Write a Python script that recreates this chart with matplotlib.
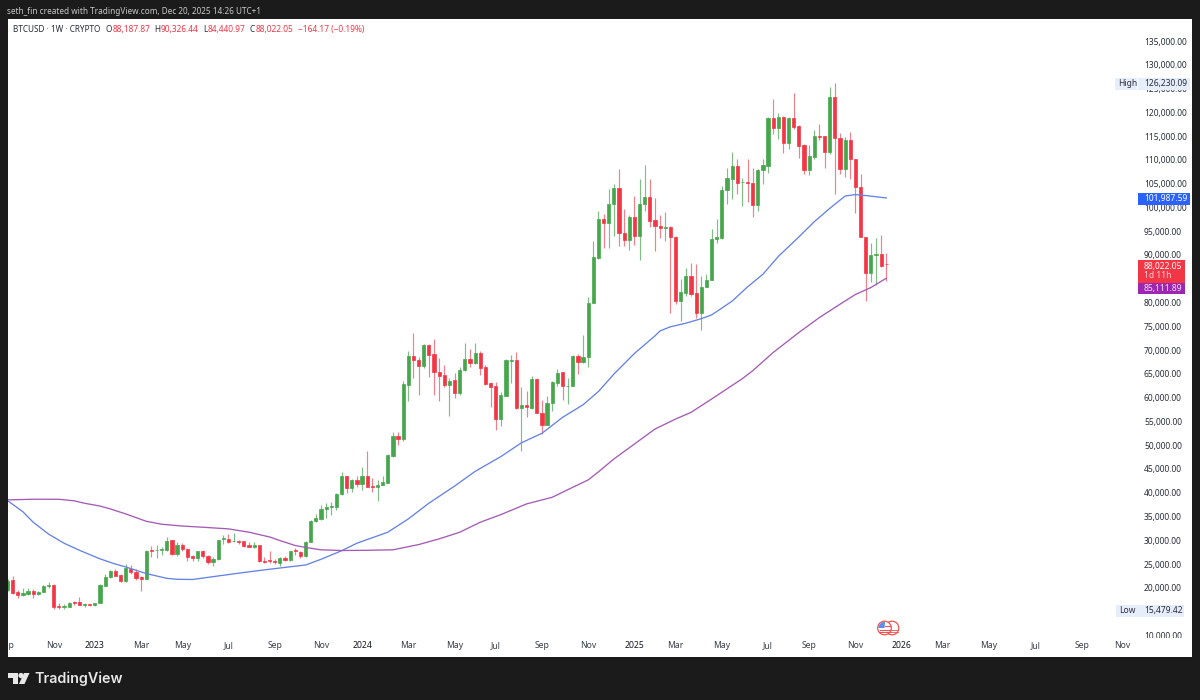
import numpy as np
import matplotlib
matplotlib.use("Agg")
import matplotlib.pyplot as plt
from matplotlib.collections import LineCollection
from matplotlib.patches import Rectangle, Circle, Polygon, Wedge

# Weekly candles: first bar is week -17 relative to the first week of 2023
first_week = -17
opens = [
 19600,21550,19170,18400,18680,19310,18680,19170,20290,20570,
 16160,15950,15950,16930,16930,16370,16510,
 16370,16790,20430,22320,23440,22670,21340,24000,23230,22180,
 21830,28000,27900,28060,28000,30090,27150,28970,28200,26660,
 26310,27710,26800,25540,26030,30300,30230,29810,29950,29810,
 29110,28690,28970,25750,25890,25750,25330,26310,25890,27990,
 27500,26730,29670,
 34080,34430,36670,37090,37090,39680,43460,40940,42760,41850,
 43600,41360,41150,41570,42130,47800,51860,51230,62710,68730,
 67960,66700,70970,69080,65440,64670,62710,63620,61030,65790,
 68170,67330,69360,66350,62990,62360,55430,60400,67610,67820,
 57740,58370,57810,63970,56830,54310,58790,63060,65300,62360,
 62360,68800,67400,68450,80000,89450,97500,96800,100650,104010,
 94700,93090,98000,94070,100650,102200,97290,96030,95600,95800,
 93860,80350,82030,85530,81960,77830,83290,84690,93370,93650,
 103730,106040,108700,105300,105340,105200,100510,107860,108770,118710,
 116750,118990,113600,118850,117100,113040,107790,110590,115000,114930,
 111640,123190,114580,108140,114160,110100,104290,93790,86300,89940,
 90150,88187.87]
highs = [
 21900,22460,19590,20000,19870,19800,19310,20570,21130,20710,
 16790,16510,16930,17210,18050,16790,16650,
 16860,20710,23000,23650,24000,22810,25000,24840,24000,22390,
 28000,28760,29000,28550,30650,30160,29740,29530,28410,27010,
 26520,27990,27010,26450,26520,31140,31280,31490,30090,29950,
 29740,29670,29100,26520,27850,26100,26520,26800,27850,28410,
 27710,29810,34290,
 35550,37510,37790,38000,39890,44300,43600,42970,43530,45490,
 48710,43110,42690,43600,48150,52700,52700,63550,69710,73490,
 68590,71250,71250,72370,68310,66910,64110,65160,66350,71530,
 70270,71530,69710,66770,63200,63200,61100,68100,69010,69570,
 62290,61450,64600,64110,59490,60400,63550,66000,65300,64110,
 68940,69150,73210,81190,92950,99250,98550,103800,104850,108000,
 99600,98400,102400,105900,108900,105900,102050,98400,99100,96100,
 94000,84900,87210,88330,88050,85600,86090,95400,97500,104500,
 108350,111640,110240,106250,110100,108350,108000,110100,119060,122700,
 119760,119200,119060,124100,117240,113250,113040,116190,117450,115000,
 125290,126230.09,115560,114790,115910,110240,106950,93860,92600,93650,
 94140,90326.44]
lows = [
 19300,18750,17910,18260,18470,17910,18400,19100,19870,15460,
 15530,15479.42,15880,16370,16300,16020,16160,
 16230,16720,20290,22110,22390,21270,21270,22950,21690,19310,
 21830,26450,26380,27000,27850,27010,26660,27850,25610,25750,
 25750,26310,25050,24490,25890,29250,29530,29600,29250,28690,
 28550,28410,25540,25190,25190,25050,24630,25750,25750,27000,
 26310,26590,29600,
 33940,34290,34710,35410,36460,39610,39890,40240,41150,40660,
 41150,40100,38280,41570,42130,47590,50110,50810,59210,64110,
 60470,66210,64390,60610,59350,62150,56200,59910,60540,65650,
 66350,67050,64740,62640,58090,53190,53960,60400,63130,57600,
 48850,55850,57600,56760,52350,54310,57250,62500,59490,58650,
 62360,64950,67260,66500,79900,89100,91550,91550,94000,91900,
 91900,91050,92050,89000,99250,95890,90850,93650,92950,77900,
 79790,76150,81330,81330,76850,74190,83290,84690,92600,93300,
 100650,101840,102750,100300,101140,98060,99250,104850,107160,115350,
 114440,111500,112340,116540,110380,106950,106880,110240,114090,108280,
 111150,102750,107000,106390,106040,98760,93720,80350,84340,83640,
 87560,84440.97]
closes = [
 21500,18960,18400,18890,19310,18750,19170,20430,20500,15950,
 15950,16160,16790,16720,16440,16510,16370,
 16790,20570,22320,23440,22530,21340,24140,23230,22040,21830,
 27780,27850,28000,28200,29950,27220,28970,28130,26590,26310,
 27780,26800,25540,26100,30090,30440,29670,29950,29740,28830,
 28620,28970,25750,25540,25680,25540,26310,25890,27710,27710,
 26730,29670,34150,
 34780,36670,37090,37230,39750,43460,40940,42760,41850,43600,
 41290,41150,41710,42270,47940,51860,51230,62780,68730,67890,
 66700,71040,68940,65300,64600,62710,63550,61030,65790,68100,
 67260,69360,66280,62780,62150,55430,60610,67820,67890,57740,
 58370,57950,63970,56760,54310,58860,63270,65230,62360,62500,
 68800,67470,68450,80000,89590,97500,96800,100650,104010,94700,
 93090,98000,94000,100650,102200,97150,96030,95610,95800,93790,
 80350,82170,85530,81890,77830,83360,84690,93370,93790,103660,
 106180,108700,105200,105400,105130,100440,107860,108840,118710,116750,
 118990,113600,118850,116890,112900,107790,110800,114930,114790,111710,
 123190,114580,108140,114160,110100,104290,93790,86300,89940,90150,
 87700,88022.05]

# Moving averages, read at selected weeks
blue_weeks = [-17,-14,-12,-9,-6,-3,-1,1,4,6,10,14,16,19,24,28,32,37,41,44,48,51,57,61,65,70,74,79,83,87,91,95,98,
              101,105,109,110,112,115,118,120,121,124,127,130,133,137,140,143,146,148,150,152,154]
blue_vals = [38350,36000,33800,31300,29390,27900,27000,26100,25000,24400,23000,22000,21800,21760,22500,23090,23650,24300,24800,26000,27800,29390,
             31700,34500,37800,41400,44500,47600,50500,52500,55850,58500,61300,
             64950,69300,73000,74050,74900,75660,76600,77400,78100,80300,83290,85950,89700,93800,97000,99800,102400,102700,102500,102250,101987.59]
purple_weeks = [-17,-12,-7,-4,-2,1,3,6,10,13,17,21,26,30,34,36,39,41,44,48,53,58,63,67,71,75,79,84,89,93,96,98,
                101,105,109,113,116,120,126,128,132,137,141,145,148,151,154]
purple_vals = [38500,38630,38630,38300,37790,37200,36600,35550,34000,33380,33000,32750,32400,31700,30700,29950,28900,28500,28000,27850,27900,28000,29100,
               30300,31700,33800,35400,37650,39050,41150,42700,44400,
               47100,50250,53400,55500,56900,59700,64000,65650,69500,73700,76850,79650,81700,83150,85111.89]

# Axis labels
x_tick_weeks = [-17,-8,0,9,17,26,35,44,52,61,70,78,87,96,105,113,122,131,139,148,157,165,174,183,192,200]
x_tick_text = ["Sep","Nov","2023","Mar","May","Jul","Sep","Nov","2024","Mar","May","Jul","Sep","Nov",
               "2025","Mar","May","Jul","Sep","Nov","2026","Mar","May","Jul","Sep","Nov"]
y_tick_vals = [10000,15000,20000,25000,30000,35000,40000,45000,50000,55000,60000,65000,70000,75000,80000,
               90000,95000,100000,105000,110000,115000,120000,125000,130000,135000]

FONT = "Noto Sans"
DARK = "#1b1b1b"
GREEN = "#46A64C"
RED = "#F23645"
INK = "#2a2e39"
W, H = 1200, 700

fig = plt.figure(figsize=(12, 7), dpi=100, facecolor=DARK)
L, R, T, B = 7.5, 1192, 19, 657
ax = fig.add_axes([L/W, 1-B/H, (R-L)/W, (B-T)/H], facecolor="white")

weeks = np.arange(first_week, first_week + len(opens))
o, h, l, c = map(np.array, (opens, highs, lows, closes))
up = c >= o
colors = np.where(up, GREEN, RED)
wick_colors = np.where(up, "#7fbf86", "#f2808a")
ax.add_collection(LineCollection([[(x, a), (x, b)] for x, a, b in zip(weeks, l, h)],
                                 colors=list(wick_colors), linewidths=0.85, zorder=2))
ax.bar(weeks, np.abs(c-o), bottom=np.minimum(o, c), width=0.62, color=list(colors),
       edgecolor=list(colors), linewidth=0.5, zorder=3)
ax.plot(blue_weeks, blue_vals, color="#6583E2", lw=0.95, zorder=4, solid_joinstyle="round")
ax.plot(purple_weeks, purple_vals, color="#A45BB5", lw=0.95, zorder=4, solid_joinstyle="round")

# pixel calibration: week 0 at x=94, 5.143 px per week; 10,000 at y=635.4, 210.3 per px
ax.set_xlim((L-94)/5.143, (R-94)/5.143)
ax.set_ylim(10000-(B-635.4)*210.3, 10000+(635.4-T)*210.3)

for s in ax.spines.values():
    s.set_visible(False)
ax.yaxis.tick_right()
ax.set_yticks(y_tick_vals)
ax.set_yticklabels([f"{v:,.2f}" for v in y_tick_vals], fontfamily=FONT, fontsize=6.1, color=INK)
ax.tick_params(axis="y", length=0, pad=-(R-1144)*0.72)
ax.set_xticks(x_tick_weeks)
ax.set_xticklabels(x_tick_text, fontfamily=FONT, fontsize=6.2, color="#3a3e49")
ax.tick_params(axis="x", length=0, pad=-11.5)
for lab, txt in zip(ax.get_xticklabels(), x_tick_text):
    if txt.isdigit():
        lab.set_fontweight("bold")
        lab.set_color("#131722")

# overlay in pixel coordinates for the TradingView chrome
ov = fig.add_axes([0, 0, 1, 1], facecolor="none")
ov.set_xlim(0, W)
ov.set_ylim(H, 0)
ov.axis("off")
ov.add_patch(Rectangle((0, 0), L, H, color=DARK, lw=0))
ov.add_patch(Rectangle((1134, 637.5), R-1134, B-637.5, color="white", lw=0))

def t(x, y, s, color=INK, size=6.1, ha="left", **kw):
    ov.text(x, y, s, color=color, fontsize=size, ha=ha, va="center", fontfamily=FONT, **kw)

t(7, 11, "seth_fin created with TradingView.com, Dec 20, 2025 14:26 UTC+1", color="#c8c8c8", size=5.9)
t(13, 29.5, "BTCUSD · 1W · CRYPTO", size=5.9)
for x, letter, xv, val in [(106, "O", 112.5, "88,187.87"), (154, "H", 160.5, "90,326.44"),
                           (203, "L", 208, "84,440.97"), (250, "C", 255.5, "88,022.05")]:
    t(x, 29.5, letter, size=5.9)
    t(xv, 29.5, val, color=RED, size=6.0)
t(298, 29.5, "−164.17 (−0.19%)", color=RED, size=6.0)

LIGHT = "#e6eefb"
ov.add_patch(Rectangle((1115, 78), 22, 11.5, color=LIGHT, lw=0))
ov.add_patch(Rectangle((1138, 78), 52, 11.5, color=LIGHT, lw=0))
t(1118, 83.5, "High")
t(1144, 83.5, "126,230.09")
ov.add_patch(Rectangle((1116, 605), 24, 11.5, color=LIGHT, lw=0))
ov.add_patch(Rectangle((1140, 605), 44, 11.5, color=LIGHT, lw=0))
t(1119, 610.5, "Low")
t(1144, 610.5, "15,479.42")

ov.add_patch(Rectangle((1138, 193), 52, 12, color="#2962FF", lw=0))
t(1144, 199, "101,987.59", color="white")
ov.add_patch(Rectangle((1138, 260), 47, 22.5, color=RED, lw=0))
t(1144, 266, "88,022.05", color="white")
t(1144, 276, "1d 11h", color="#fbd5d9")
ov.add_patch(Rectangle((1138, 282.5), 47, 11.5, color="#9C27B0", lw=0))
t(1144, 288.3, "85,111.89", color="#f3e3f6")

# calendar flag marker
ov.add_patch(Circle((892, 628), 6.8, fc="white", ec="#ef5350", lw=0.9))
ov.add_patch(Circle((884.5, 628), 6.8, fc="white", ec="#ef5350", lw=0.9))
ov.add_patch(Wedge((884.5, 628), 6, 180, 275, fc="#5b8def", lw=0))
for dy in (1.5, 4):
    ov.plot([879.5, 890], [628+dy, 628+dy], color="#ef5350", lw=0.8)
    ov.plot([890, 897.5], [628+dy, 628+dy], color="#ef5350", lw=0.6)
ov.plot([885, 890], [626, 626], color="#ef5350", lw=0.8)

# logo
LOGO = "#e8e8e8"
ov.add_patch(Polygon([(8, 673), (18, 673), (18, 684), (13, 684), (13, 678), (8, 678)], color=LOGO, lw=0))
ov.add_patch(Circle((21, 675.5), 2.6, color=LOGO, lw=0))
ov.add_patch(Polygon([(24, 673), (29.5, 673), (24.5, 684), (19, 684)], color=LOGO, lw=0))
ov.text(34.5, 678.5, "TradingView", color=LOGO, fontsize=10.3, ha="left", va="center",
        fontfamily="Inter", fontweight="semibold")

assert len(opens) == len(highs) == len(lows) == len(closes)
fig.savefig("out.png", dpi=100, facecolor=DARK)
